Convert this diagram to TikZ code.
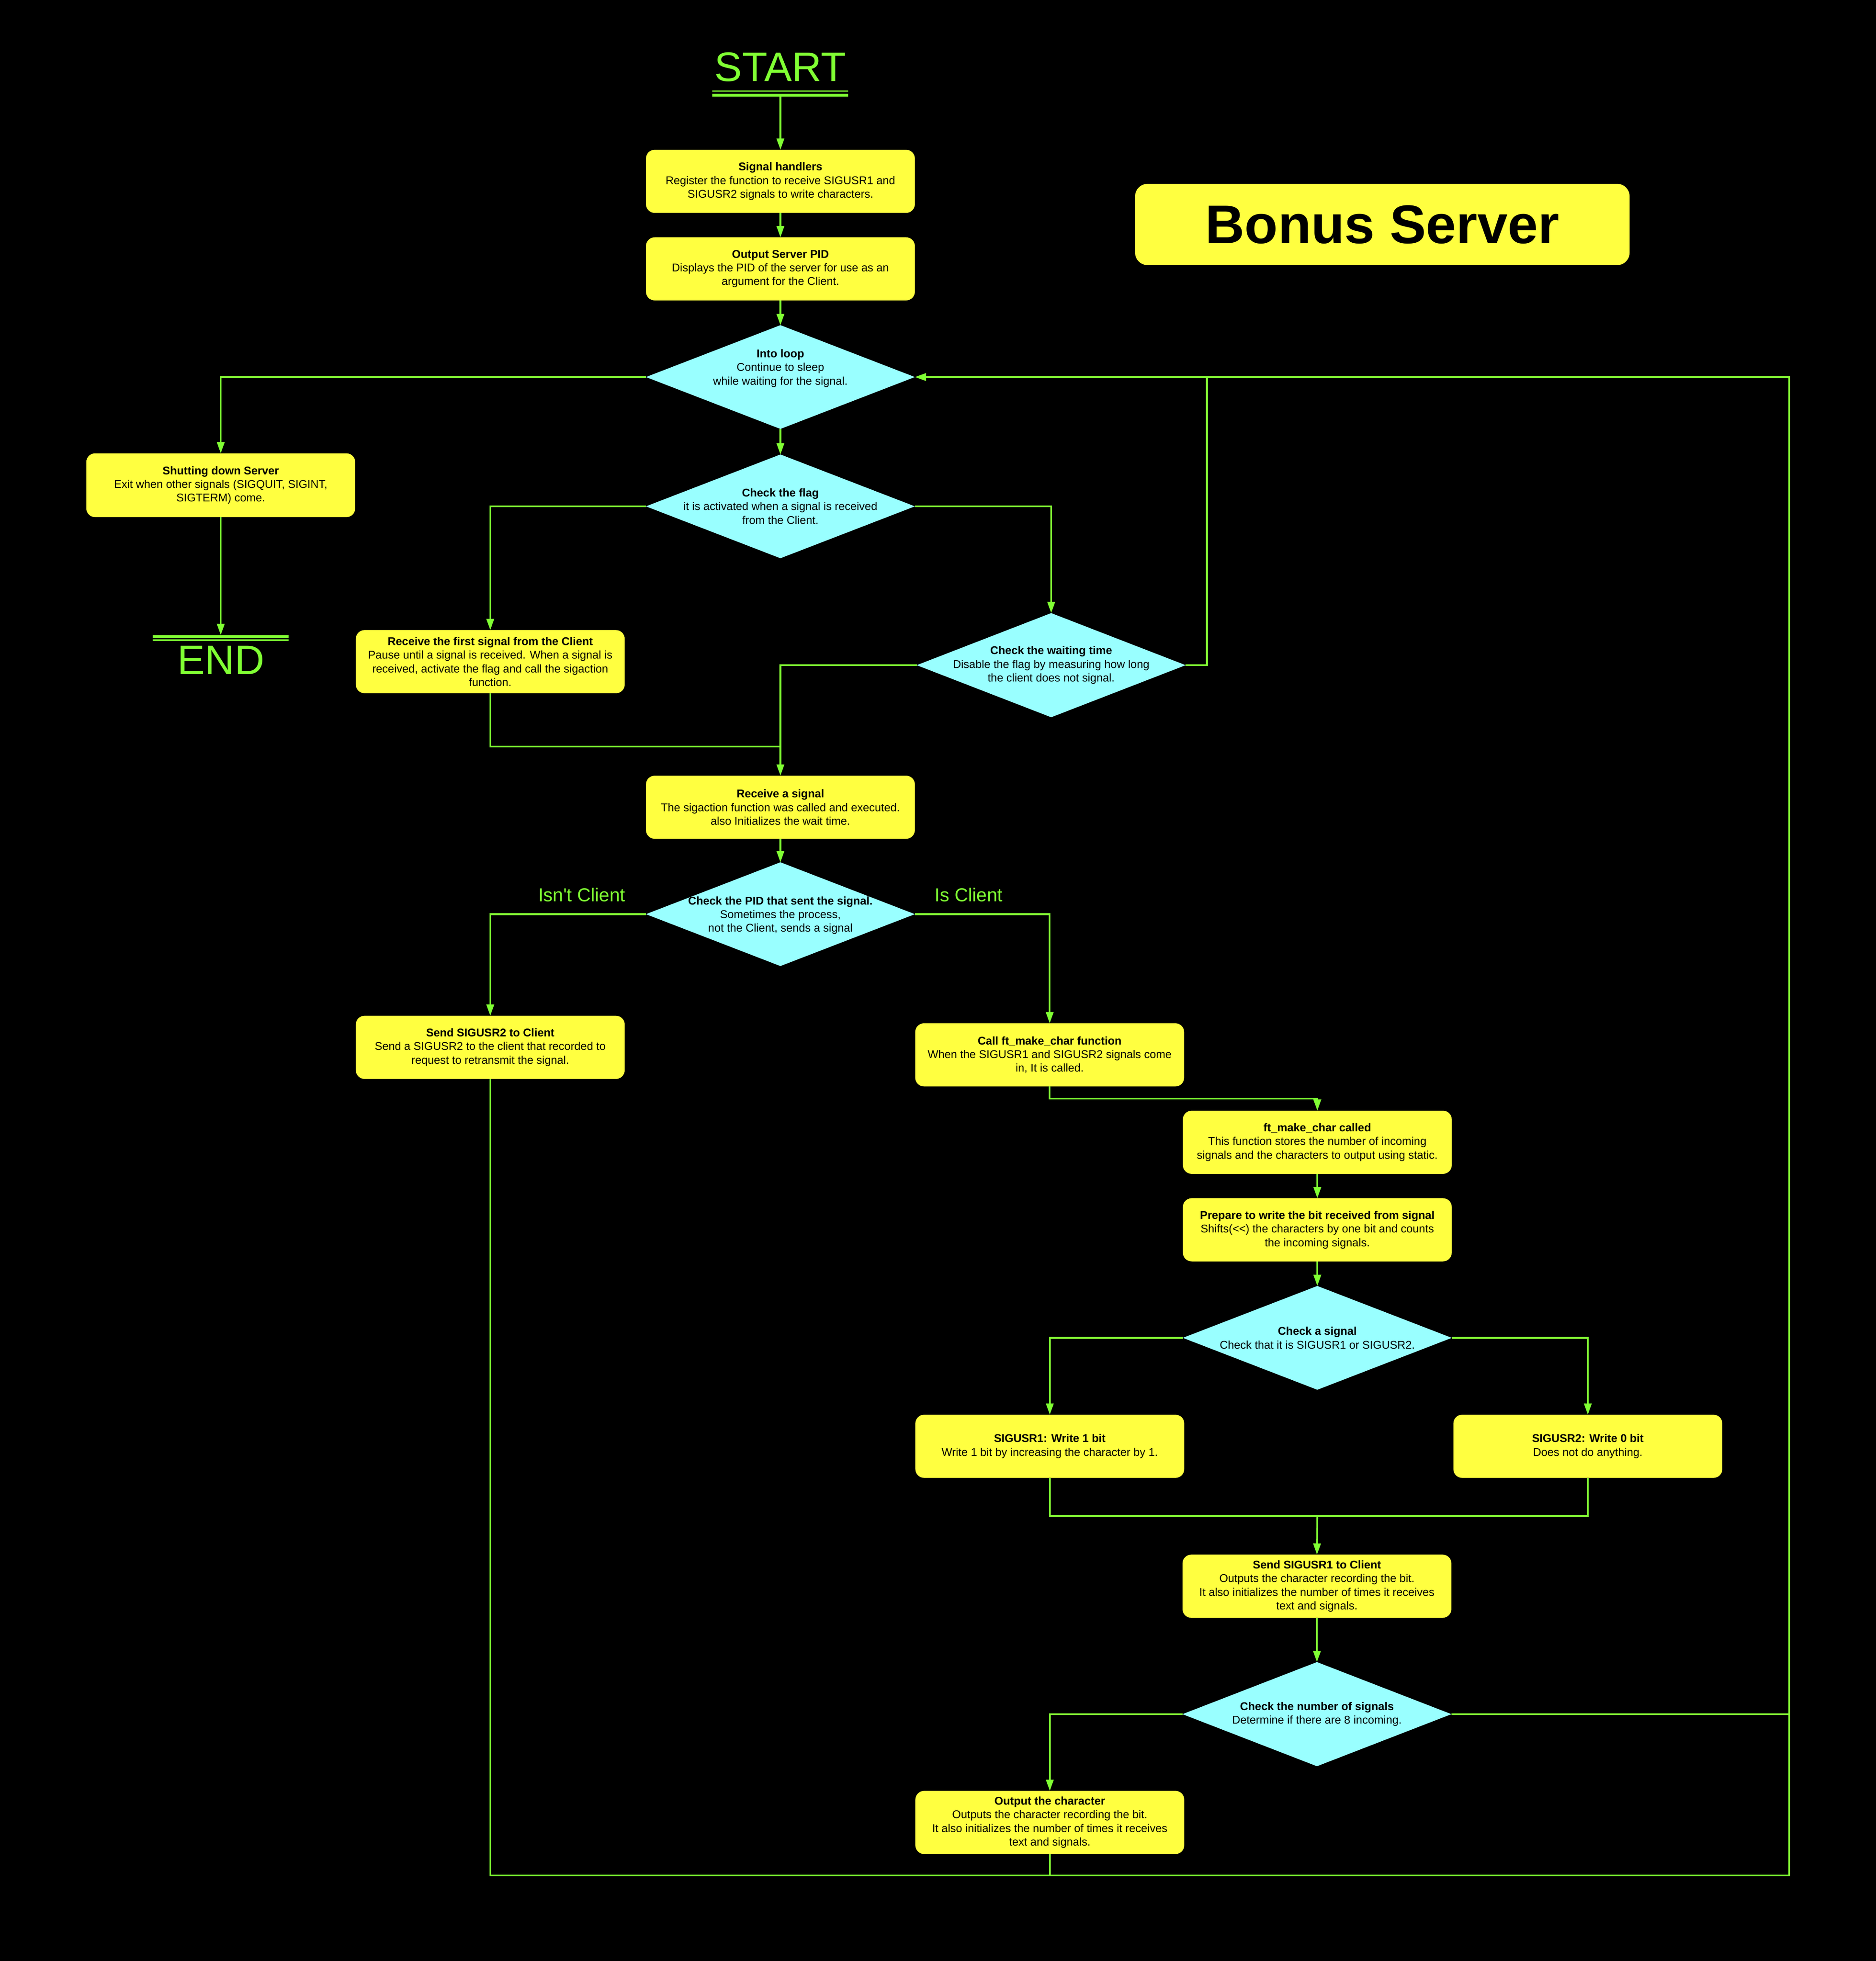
\documentclass[tikz,border=0pt]{standalone}
\usepackage{fontspec}
\setmainfont{Liberation Sans}[Ligatures=TeXOff]
\usetikzlibrary{shapes.geometric,arrows.meta}
\definecolor{bxy}{RGB}{255,255,64}
\definecolor{dcy}{RGB}{153,255,255}
\definecolor{lgr}{RGB}{128,255,51}
\newcommand\bfnt{\fontsize{9pt}{10.9pt}\selectfont}
\begin{document}
\begin{tikzpicture}[x=1pt,y=-1pt,
 box/.style={rectangle,rounded corners=7pt,fill=bxy,minimum width=215pt,minimum height=50.5pt,inner sep=0pt,outer sep=0pt,align=center,font=\bfnt,text=black},
 dia/.style={diamond,fill=dcy,minimum width=215pt,minimum height=83pt,inner sep=0pt,outer sep=0pt},
 dtxt/.style={align=center,font=\bfnt,text=black,inner sep=0pt},
 ln/.style={draw=lgr,line width=1.4pt},
 arr/.style={ln,-{Triangle[length=9pt,width=6pt]}},
 term/.style={text=lgr,font=\fontsize{33pt}{36pt}\selectfont,inner sep=0pt,anchor=base},
 lbl/.style={text=lgr,font=\fontsize{15pt}{18pt}\selectfont,inner sep=0pt,anchor=base}]
\fill[black] (0,0) rectangle (1500,1568.1);
\useasboundingbox (0,0) rectangle (1500,1568.1);

% title
\node[box,rounded corners=10pt,minimum width=395.4pt,minimum height=65pt,font=\fontsize{43.5pt}{48pt}\selectfont\bfseries] (bonus) at (1105.3,179.5) {Bonus Server};

% terminals
\node[term] (start) at (624,65) {START};
\draw[lgr,line width=1pt] (569.5,72.7) -- (678.2,72.7);
\draw[lgr,line width=2.3pt] (569.5,76) -- (678.2,76);
\coordinate (startbar) at (624,77.2);

\node[term] (endT) at (176.8,539.1) {END};
\draw[lgr,line width=2.5pt] (122,509.1) -- (230.7,509.1);
\draw[lgr,line width=1pt] (122,511.9) -- (230.7,511.9);
\coordinate (endbar) at (176.5,507.8);

% boxes and decisions
\node[box] (sh) at (624,145) {\textbf{Signal handlers}\\Register the function to receive SIGUSR1 and\\SIGUSR2 signals to write characters.};
\node[box] (spid) at (624,215) {\textbf{Output Server PID}\\Displays the PID of the server for use as an\\argument for the Client.};
\node[dia] (loop) at (624,301.5) {};
\node[dtxt] (loopT) at (624,294.5) {\textbf{Into loop}\\Continue to sleep\\while waiting for the signal.};
\node[box,minimum height=51pt] (shut) at (176.5,388) {\textbf{Shutting down Server}\\Exit when other signals (SIGQUIT, SIGINT,\\SIGTERM) come.};
\node[dia] (flag) at (624,404.9) {};
\node[dtxt] (flagT) at (flag) {\textbf{Check the flag}\\it is activated when a signal is received\\from the Client.};
\node[box] (first) at (392,529.1) {\textbf{Receive the first signal from the Client}\\Pause until a signal is received. When a signal is\\received, activate the flag and call the sigaction\\function.};
\node[dia,minimum height=83.3pt] (wait) at (840.5,531.9) {};
\node[dtxt] (waitT) at (wait) {\textbf{Check the waiting time}\\Disable the flag by measuring how long\\the client does not signal.};
\node[box] (rsig) at (624,645.5) {\textbf{Receive a signal}\\The sigaction function was called and executed.\\also Initializes the wait time.};
\node[dia] (pidc) at (624,731) {};
\node[dtxt] (pidcT) at (624,732) {\textbf{Check the PID that sent the signal.}\\Sometimes the process,\\not the Client, sends a signal};
\node[lbl] (isnt) at (465.2,721) {Isn't Client};
\node[lbl] (isc) at (774.6,721) {Is Client};
\node[box] (sig2) at (392,837.5) {\textbf{Send SIGUSR2 to Client}\\Send a SIGUSR2 to the client that recorded to\\request to retransmit the signal.};
\node[box] (call) at (839.3,843.5) {\textbf{Call ft\_make\_char function}\\When the SIGUSR1 and SIGUSR2 signals come\\in, It is called.};
\node[box] (fmc) at (1053.3,913.4) {\textbf{ft\_make\_char called}\\This function stores the number of incoming\\signals and the characters to output using static.};
\node[box] (prep) at (1053.3,983.4) {\textbf{Prepare to write the bit received from signal}\\Shifts(<<) the characters by one bit and counts\\the incoming signals.};
\node[dia] (csig) at (1053.3,1069.8) {};
\node[dtxt] (csigT) at (csig) {\textbf{Check a signal}\\Check that it is SIGUSR1 or SIGUSR2.};
\node[box] (w1) at (839.4,1156.5) {\textbf{SIGUSR1: Write 1 bit}\\Write 1 bit by increasing the character by 1.};
\node[box] (w0) at (1269.6,1156.5) {\textbf{SIGUSR2: Write 0 bit}\\Does not do anything.};
\node[box] (ss1) at (1053,1268.4) {\textbf{Send SIGUSR1 to Client}\\Outputs the character recording the bit.\\It also initializes the number of times it receives\\text and signals.};
\node[dia,minimum height=83.3pt] (cnum) at (1053,1370.7) {};
\node[dtxt] (cnumT) at (cnum) {\textbf{Check the number of signals}\\Determine if there are 8 incoming.};
\node[box] (outc) at (839.4,1457.3) {\textbf{Output the character}\\Outputs the character recording the bit.\\It also initializes the number of times it receives\\text and signals.};

% junction points
\coordinate (rb) at (1430.5,1499.6);
\coordinate (jw) at (965,301.5);
\coordinate (j2) at (624,597);
\coordinate (c1) at (1053.3,878.5);
\coordinate (c2) at (1053.3,1212.1);

% connectors
\draw[arr] (startbar) -- (sh.north);
\draw[arr] (sh.south) -- (spid.north);
\draw[arr] (spid.south) -- (loop.north);
\draw[arr] (loop.west) -| (shut.north);
\draw[arr] (shut.south) -- (endbar);
\draw[arr] (loop.south) -- (flag.north);
\draw[arr] (flag.west) -| (first.north);
\draw[arr] (flag.east) -| (wait.north);
\draw[ln] (wait.east) -| (jw);
\draw[arr] (wait.west) -| (rsig.north);
\draw[ln] (first.south) |- (j2);
\draw[arr] (rsig.south) -- (pidc.north);
\draw[arr] (pidc.west) -| (sig2.north);
\draw[arr] (pidc.east) -| (call.north);
\draw[arr] (call.south) |- (c1) -- (fmc.north);
\draw[arr] (fmc.south) -- (prep.north);
\draw[arr] (prep.south) -- (csig.north);
\draw[arr] (csig.west) -| (w1.north);
\draw[arr] (csig.east) -| (w0.north);
\draw[ln] (w1.south) |- (c2);
\draw[ln] (w0.south) |- (c2);
\draw[arr] (c2) -- (ss1.north);
\draw[arr] (ss1.south) -- (cnum.north);
\draw[arr] (cnum.west) -| (outc.north);
\draw[ln] (cnum.east) -- (cnum.east -| rb);
\draw[ln] (outc.south) -- (outc.south |- rb);
\draw[arr] (sig2.south) |- (rb) |- (loop.east);
\end{tikzpicture}
\end{document}
